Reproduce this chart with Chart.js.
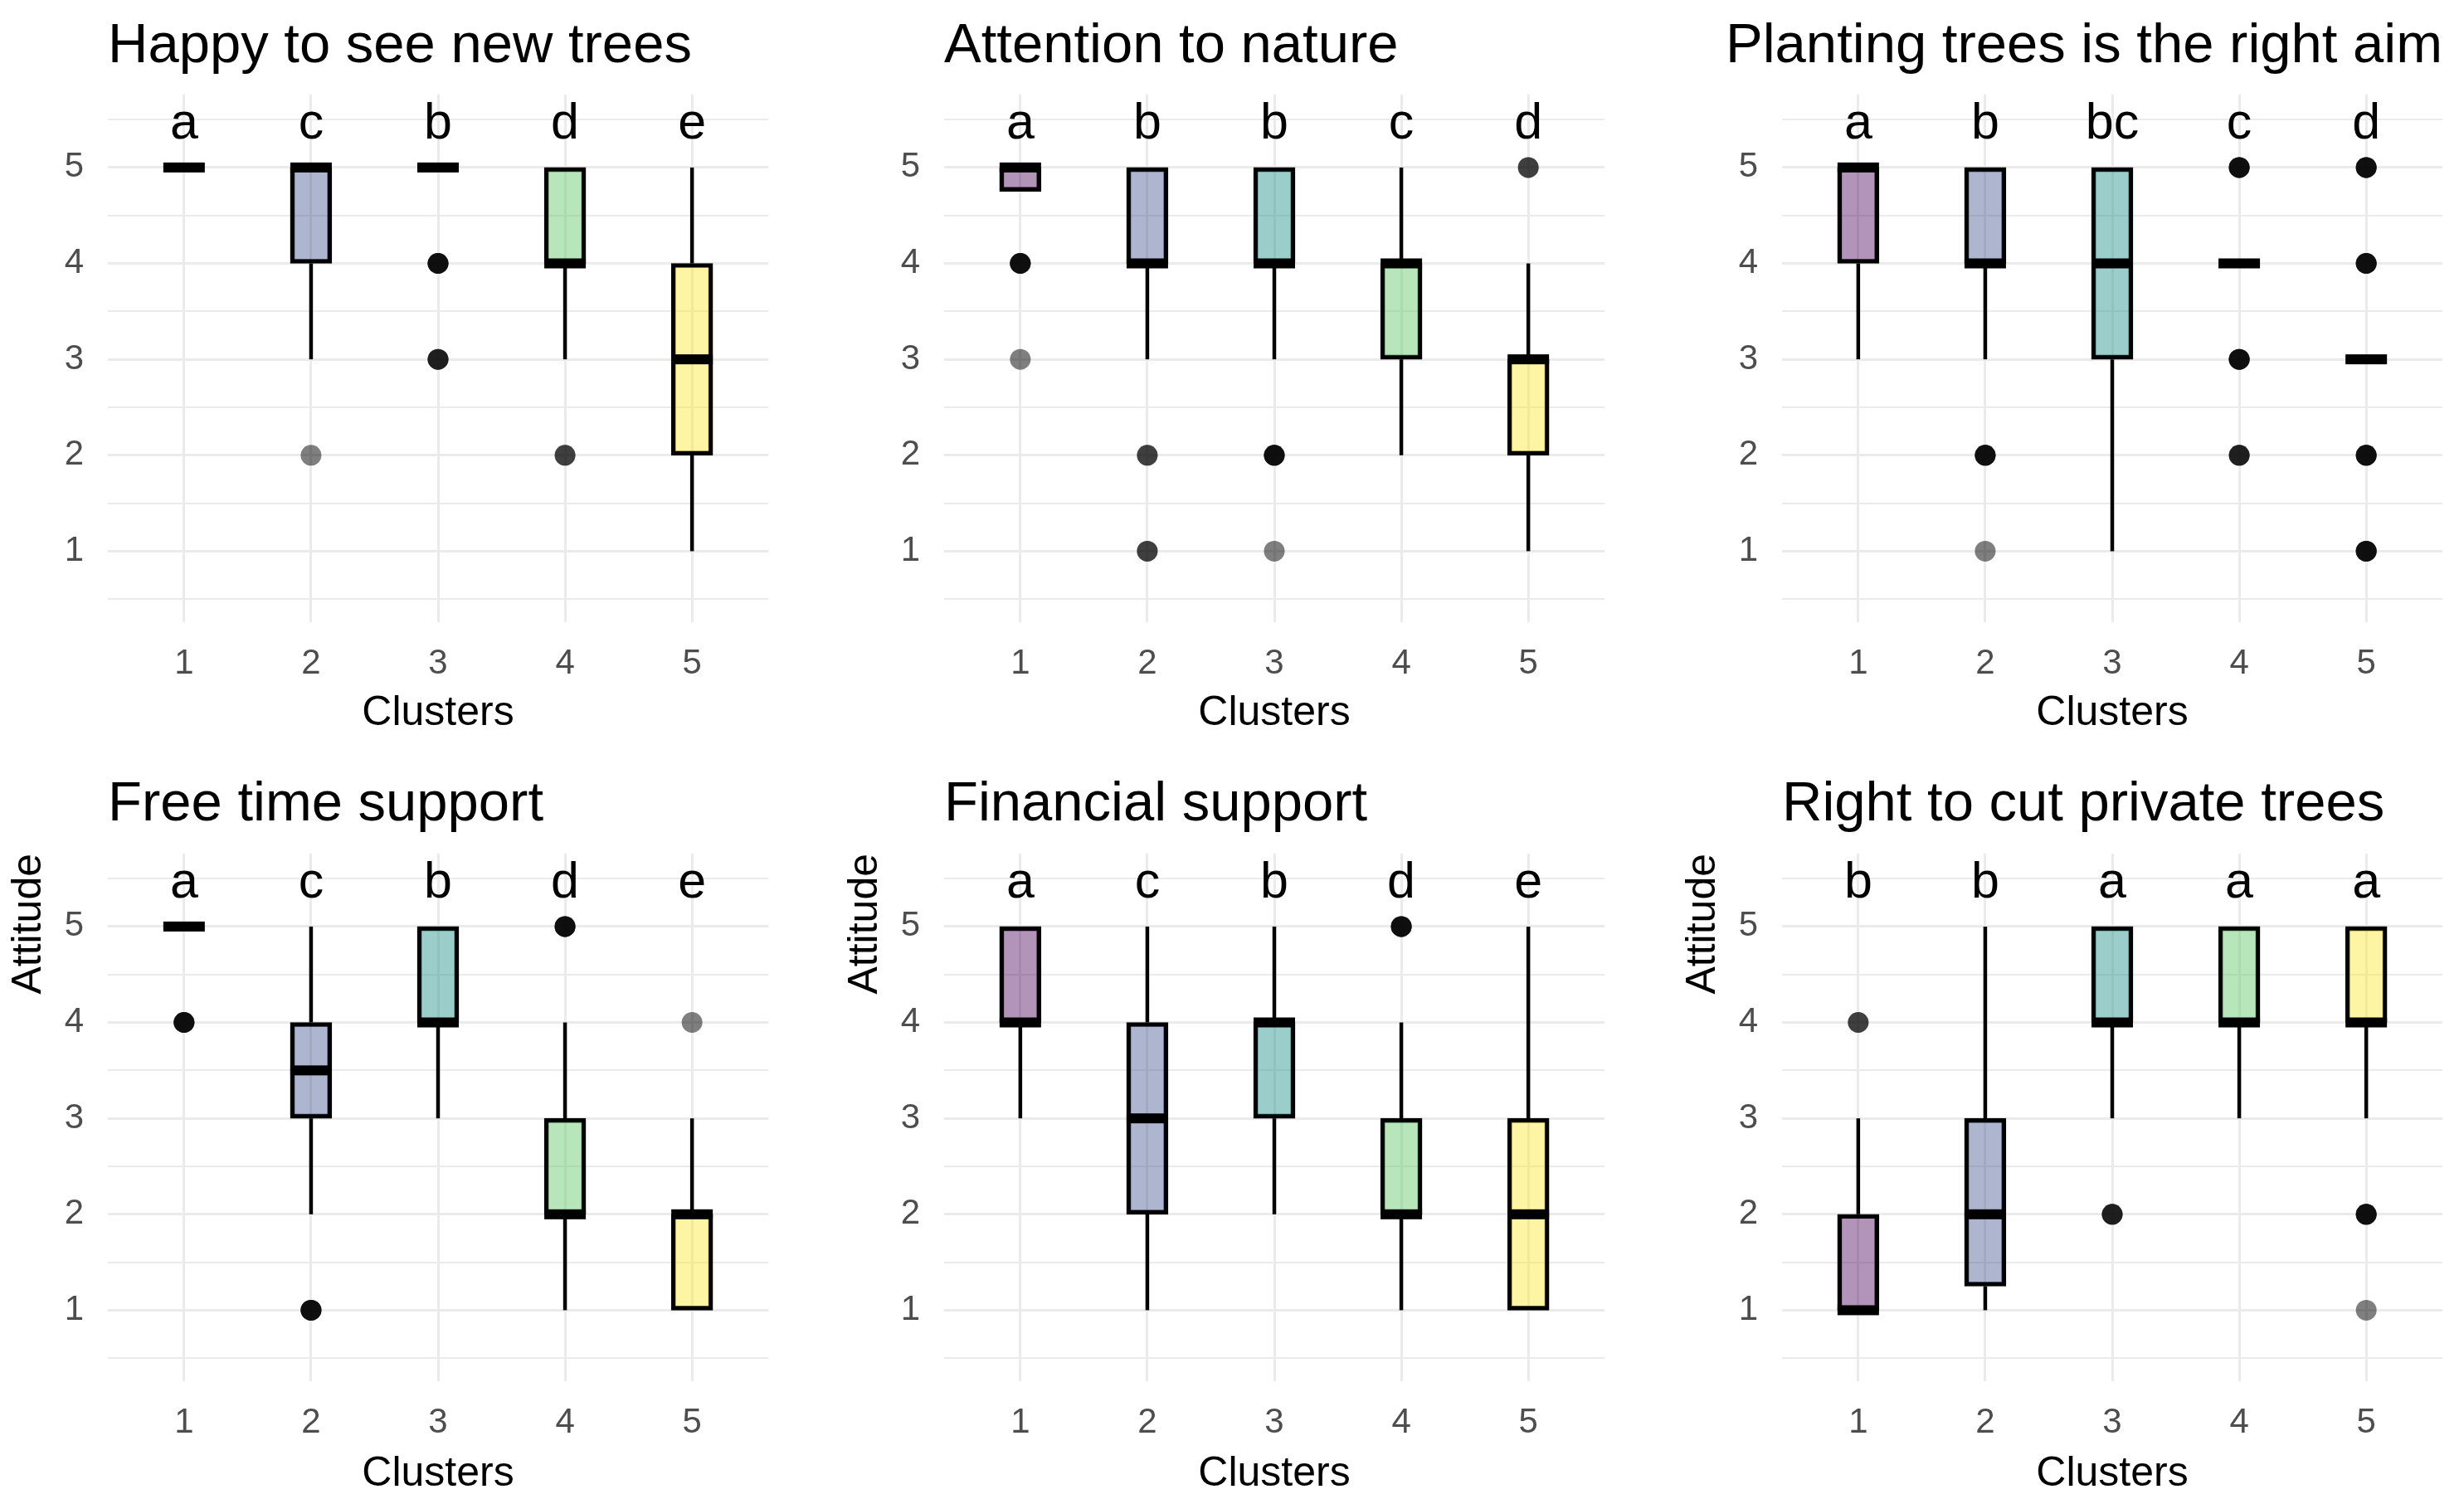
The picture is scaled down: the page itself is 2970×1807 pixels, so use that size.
<!DOCTYPE html>
<html>
<head>
<meta charset="utf-8">
<script src="https://cdn.jsdelivr.net/npm/chart.js@4.4.1/dist/chart.umd.min.js"></script>
<style>
  html, body { margin: 0; padding: 0; background: #ffffff; overflow: hidden; }
  body { width: 2970px; height: 1807px; position: relative; }
  canvas { position: absolute; }
</style>
</head>
<body>
<script>
// ---------------- DATA ----------------
const CLUSTERS = [1, 2, 3, 4, 5];
const Y_TICKS = [1, 2, 3, 4, 5];

// five-number boxes per cluster: [lower whisker, Q1, median, Q3, upper whisker]
const happyBox = [[5,5,5,5,5],[3,4,5,5,5],[5,5,5,5,5],[3,4,4,5,5],[1,2,3,4,5]];
const happyOut = [[],[2],[4,4,4,4,3,3,3],[2,2],[]];
const happyLetters = ['a','c','b','d','e'];

const attentionBox = [[4.75,4.75,5,5,5],[3,4,4,5,5],[3,4,4,5,5],[2,3,4,4,5],[1,2,3,3,4]];
const attentionOut = [[4,4,4,4,3],[2,2,1,1],[2,2,2,2,1],[],[5,5]];
const attentionLetters = ['a','b','b','c','d'];

const plantingBox = [[3,4,5,5,5],[3,4,4,5,5],[1,3,4,5,5],[4,4,4,4,4],[3,3,3,3,3]];
const plantingOut = [[],[2,2,2,2,1],[],[5,5,5,5,3,3,3,3,2,2,2],[5,5,5,5,4,4,4,4,2,2,2,2,1,1,1,1]];
const plantingLetters = ['a','b','bc','c','d'];

const freeTimeBox = [[5,5,5,5,5],[2,3,3.5,4,5],[3,4,4,5,5],[1,2,2,3,4],[1,1,2,2,3]];
const freeTimeOut = [[4,4,4,4],[1,1,1,1],[],[5,5,5,5],[4]];
const freeTimeLetters = ['a','c','b','d','e'];

const financialBox = [[3,4,4,5,5],[1,2,3,4,5],[2,3,4,4,5],[1,2,2,3,4],[1,1,2,3,5]];
const financialOut = [[],[],[],[5,5,5,5],[]];
const financialLetters = ['a','c','b','d','e'];

const cutBox = [[1,1,1,2,3],[1,1.25,2,3,5],[3,4,4,5,5],[3,4,4,5,5],[3,4,4,5,5]];
const cutOut = [[4,4],[],[2,2,2],[],[2,2,2,2,1]];
const cutLetters = ['b','b','a','a','a'];

const TITLES = ['Happy to see new trees','Attention to nature','Planting trees is the right aim',
                'Free time support','Financial support','Right to cut private trees'];
const X_TITLE = 'Clusters';
const Y_TITLE = 'Attitude';

// ---------------- STYLE / LAYOUT ----------------
const FONT = '"Liberation Sans", Arial, Helvetica, sans-serif';
Chart.defaults.font.family = FONT;
const BOX_COLORS = ['rgba(68,1,84,0.42)','rgba(59,82,139,0.42)','rgba(33,144,140,0.45)','rgba(93,200,99,0.45)','rgba(253,231,37,0.42)'];
const GRID = '#ebebeb';
const LETTER_Y = 5.3;
const COL_LEFT = [0, 1008, 2018];
const CANVAS_W = 952;
const ROWS = [
  {top: 0,   height: 905, titleTop: 16, titleBottom: 17.6, xHeight: 155, xTitlePad: 20},
  {top: 905, height: 902, titleTop: 25, titleBottom: 18.6, xHeight: 142, xTitlePad: 5}
];

const PANELS = [
  {title: TITLES[0], box: happyBox, out: happyOut, letters: happyLetters, row: 0, col: 0},
  {title: TITLES[1], box: attentionBox, out: attentionOut, letters: attentionLetters, row: 0, col: 1},
  {title: TITLES[2], box: plantingBox, out: plantingOut, letters: plantingLetters, row: 0, col: 2},
  {title: TITLES[3], box: freeTimeBox, out: freeTimeOut, letters: freeTimeLetters, row: 1, col: 0},
  {title: TITLES[4], box: financialBox, out: financialOut, letters: financialLetters, row: 1, col: 1},
  {title: TITLES[5], box: cutBox, out: cutOut, letters: cutLetters, row: 1, col: 2}
];

function boxParts(panel) {
  return {
    id: 'boxParts',
    beforeDatasetsDraw(chart) {
      const {ctx, scales: {x, y}} = chart;
      ctx.save();
      ctx.strokeStyle = '#000';
      ctx.lineWidth = 4.5;
      ctx.lineCap = 'butt';
      panel.box.forEach((s, i) => {
        const px = x.getPixelForValue(CLUSTERS[i]);
        if (s[0] < s[1]) {
          ctx.beginPath();
          ctx.moveTo(px, y.getPixelForValue(s[0]));
          ctx.lineTo(px, y.getPixelForValue(s[1]));
          ctx.stroke();
        }
        if (s[4] > s[3]) {
          ctx.beginPath();
          ctx.moveTo(px, y.getPixelForValue(s[3]));
          ctx.lineTo(px, y.getPixelForValue(s[4]));
          ctx.stroke();
        }
      });
      ctx.restore();
    },
    afterDatasetsDraw(chart) {
      const {ctx, scales: {x, y}} = chart;
      const meta = chart.getDatasetMeta(0);
      ctx.save();
      ctx.fillStyle = '#000';
      panel.box.forEach((s, i) => {
        const bar = meta.data[i];
        const w = bar.width;
        const py = y.getPixelForValue(s[2]);
        ctx.fillRect(bar.x - w / 2, py - 6, w, 12);
      });
      ctx.font = '61px ' + FONT;
      ctx.textAlign = 'center';
      ctx.textBaseline = 'alphabetic';
      panel.letters.forEach((t, i) => {
        ctx.fillText(t, x.getPixelForValue(CLUSTERS[i]), y.getPixelForValue(LETTER_Y));
      });
      ctx.restore();
    }
  };
}

PANELS.forEach((panel, k) => {
  const row = ROWS[panel.row];
  const cv = document.createElement('canvas');
  cv.width = CANVAS_W; cv.height = row.height;
  cv.style.width = CANVAS_W + 'px'; cv.style.height = row.height + 'px';
  cv.style.left = COL_LEFT[panel.col] + 'px'; cv.style.top = row.top + 'px';
  document.body.appendChild(cv);

  const boxData = panel.box.map((s, i) => ({x: CLUSTERS[i], y: [s[1], s[3]]}));
  const outData = [];
  panel.out.forEach((arr, i) => arr.forEach(v => outData.push({x: CLUSTERS[i], y: v})));
  const endAlign = panel.col === 2 && panel.row === 0;

  new Chart(cv, {
    type: 'bar',
    data: {
      datasets: [
        {type: 'bar', data: boxData, backgroundColor: BOX_COLORS, borderColor: '#000',
         borderWidth: 5, borderSkipped: false, barThickness: 50, order: 2},
        {type: 'scatter', data: outData, pointRadius: 12.5, pointHoverRadius: 12.5,
         pointBackgroundColor: 'rgba(0,0,0,0.5)', pointBorderWidth: 0, showLine: false, order: 1}
      ]
    },
    options: {
      responsive: false,
      devicePixelRatio: 1,
      animation: false,
      events: [],
      layout: {padding: {left: 0, right: CANVAS_W - 926, top: 0, bottom: 0}},
      plugins: {
        legend: {display: false},
        tooltip: {enabled: false},
        title: {
          display: true, text: panel.title, align: endAlign ? 'end' : 'start', fullSize: endAlign,
          color: '#000', font: {size: 67, weight: 'normal', lineHeight: 1.2},
          padding: {top: row.titleTop, bottom: row.titleBottom}
        }
      },
      scales: {
        x: {
          type: 'linear', min: 0.4, max: 5.6, offset: false,
          grid: {offset: false, color: GRID, lineWidth: 3, drawTicks: false},
          border: {display: false},
          ticks: {font: {size: 42}, color: '#4d4d4d', padding: 25, autoSkip: false,
                  callback: v => String(v)},
          afterBuildTicks: s => { s.ticks = CLUSTERS.map(v => ({value: v})); },
          afterFit: s => { s.height = row.xHeight; },
          title: {display: true, text: X_TITLE, color: '#000',
                  font: {size: 50, lineHeight: 1}, padding: {top: 0, bottom: row.xTitlePad}}
        },
        y: {
          type: 'linear', min: 0.26, max: 5.76,
          grid: {color: GRID, lineWidth: c => (Y_TICKS.includes(c.tick.value) ? 3 : 2), drawTicks: false},
          border: {display: false},
          ticks: {font: {size: 42}, color: '#4d4d4d', padding: 29, autoSkip: false,
                  callback: v => (Y_TICKS.includes(v) ? String(v) : '')},
          afterBuildTicks: s => {
            const vals = [];
            Y_TICKS.forEach(v => { vals.push(v - 0.5, v); });
            vals.push(Y_TICKS[Y_TICKS.length - 1] + 0.5);
            s.ticks = vals.map(v => ({value: v}));
          },
          afterFit: s => { s.width = 130; },
          title: {display: panel.row === 1, text: Y_TITLE, color: '#000', align: 'end',
                  font: {size: 50, lineHeight: 1.2}, padding: {top: 5, bottom: 0}}
        }
      }
    },
    plugins: [boxParts(panel)]
  });
});
</script>
</body>
</html>
